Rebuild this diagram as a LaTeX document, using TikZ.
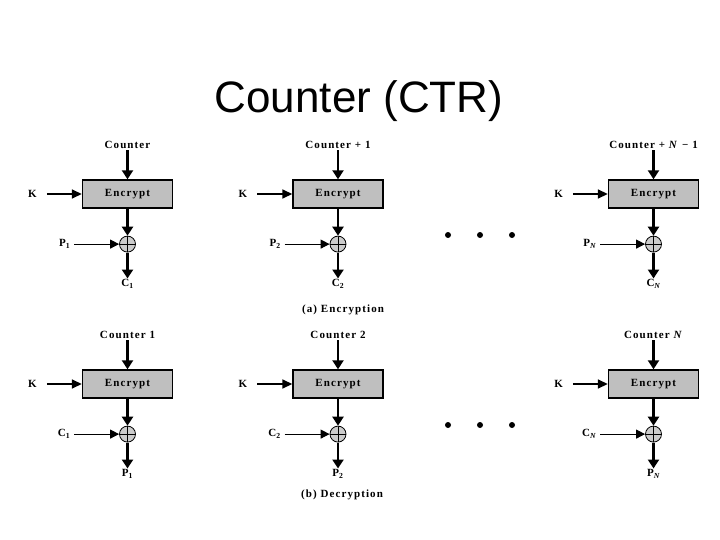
\documentclass[tikz,border=0pt]{standalone}
\usepackage{fontspec}
\setmainfont{Liberation Serif}
\newfontfamily\titlefont{Liberation Sans}
\newfontfamily\lblfont[LetterSpace=10]{Liberation Serif}
\usetikzlibrary{arrows.meta, positioning}

\begin{document}
\begin{tikzpicture}[
    x=1pt, y=-1pt,
    cipher/.style={rectangle, draw, line width=1.4pt, fill=black!25, minimum width=90pt, minimum height=28pt, font=\lblfont\bfseries\fontsize{11}{13}\selectfont},
    xor/.style={circle, draw, line width=0.8pt, fill=black!20, minimum size=16pt, inner sep=0pt,
        path picture={\draw[line width=0.8pt] (path picture bounding box.north) -- (path picture bounding box.south)
                                              (path picture bounding box.west) -- (path picture bounding box.east);}},
    lbl/.style={inner sep=1pt, font=\lblfont\bfseries\fontsize{11}{13}\selectfont},
    keylbl/.style={lbl, outer xsep=9pt},
    txtlbl/.style={lbl, outer xsep=3pt},
    caption/.style={inner sep=1pt, font=\lblfont\bfseries\fontsize{11}{13}\selectfont},
    arrow/.style={-{Triangle[length=9pt, width=11pt]}, line width=2.2pt},
    keyarrow/.style={-{Triangle[length=10pt, width=9pt]}, line width=1.6pt},
    thinarrow/.style={-{Triangle[length=9pt, width=9pt]}, line width=1pt}
]
\useasboundingbox (0,0) rectangle (720,540);

% Title
\node[font=\titlefont\fontsize{44}{52}\selectfont] (title) at (359,101) {Counter (CTR)};

% (a) Encryption, stage 1
\node[cipher] (enc1) at (127.5,194) {Encrypt};
\node[lbl, above=29pt of enc1] (ctr1) {Counter};
\node[keylbl, left=35pt of enc1] (k1) {K};
\node[xor, below=27pt of enc1] (xor1) {};
\node[txtlbl, left=45pt of xor1] (p1) {P\textsubscript{1}};
\node[lbl, below=26pt of xor1] (c1) {C\textsubscript{1}};
\draw[arrow] (ctr1) -- (enc1);
\draw[keyarrow] (k1) -- (enc1);
\draw[arrow] (enc1) -- (xor1);
\draw[thinarrow] (p1) -- (xor1);
\draw[arrow] (xor1) -- (c1);

% (a) Encryption, stage 2
\node[cipher] (enc2) at (338,194) {Encrypt};
\node[lbl, above=29pt of enc2] (ctr2) {Counter + 1};
\node[keylbl, left=35pt of enc2] (k2) {K};
\node[xor, below=27pt of enc2] (xor2) {};
\node[txtlbl, left=45pt of xor2] (p2) {P\textsubscript{2}};
\node[lbl, below=26pt of xor2] (c2) {C\textsubscript{2}};
\draw[arrow] (ctr2) -- (enc2);
\draw[keyarrow] (k2) -- (enc2);
\draw[arrow] (enc2) -- (xor2);
\draw[thinarrow] (p2) -- (xor2);
\draw[arrow] (xor2) -- (c2);

% (a) Encryption, stage N
\node[cipher] (encN) at (653.5,194) {Encrypt};
\node[lbl, above=29pt of encN] (ctrN) {Counter + \textit{N} − 1};
\node[keylbl, left=35pt of encN] (kN) {K};
\node[xor, below=27pt of encN] (xorN) {};
\node[txtlbl, left=45pt of xorN] (pN) {P\textsubscript{\itshape N}};
\node[lbl, below=26pt of xorN] (cN) {C\textsubscript{\itshape N}};
\draw[arrow] (ctrN) -- (encN);
\draw[keyarrow] (kN) -- (encN);
\draw[arrow] (encN) -- (xorN);
\draw[thinarrow] (pN) -- (xorN);
\draw[arrow] (xorN) -- (cN);

\foreach \x in {448,480,512} \fill (\x,235) circle (3);
\node[caption] (enccap) at (343,310) {(a) Encryption};

% (b) Decryption, stage 1
\node[cipher] (dec1) at (127.5,384) {Encrypt};
\node[lbl, above=29pt of dec1] (dctr1) {Counter 1};
\node[keylbl, left=35pt of dec1] (dk1) {K};
\node[xor, below=27pt of dec1] (dxor1) {};
\node[txtlbl, left=45pt of dxor1] (dc1) {C\textsubscript{1}};
\node[lbl, below=26pt of dxor1] (dp1) {P\textsubscript{1}};
\draw[arrow] (dctr1) -- (dec1);
\draw[keyarrow] (dk1) -- (dec1);
\draw[arrow] (dec1) -- (dxor1);
\draw[thinarrow] (dc1) -- (dxor1);
\draw[arrow] (dxor1) -- (dp1);

% (b) Decryption, stage 2
\node[cipher] (dec2) at (338,384) {Encrypt};
\node[lbl, above=29pt of dec2] (dctr2) {Counter 2};
\node[keylbl, left=35pt of dec2] (dk2) {K};
\node[xor, below=27pt of dec2] (dxor2) {};
\node[txtlbl, left=45pt of dxor2] (dc2) {C\textsubscript{2}};
\node[lbl, below=26pt of dxor2] (dp2) {P\textsubscript{2}};
\draw[arrow] (dctr2) -- (dec2);
\draw[keyarrow] (dk2) -- (dec2);
\draw[arrow] (dec2) -- (dxor2);
\draw[thinarrow] (dc2) -- (dxor2);
\draw[arrow] (dxor2) -- (dp2);

% (b) Decryption, stage N
\node[cipher] (decN) at (653.5,384) {Encrypt};
\node[lbl, above=29pt of decN] (dctrN) {Counter \textit{N}};
\node[keylbl, left=35pt of decN] (dkN) {K};
\node[xor, below=27pt of decN] (dxorN) {};
\node[txtlbl, left=45pt of dxorN] (dcN) {C\textsubscript{\itshape N}};
\node[lbl, below=26pt of dxorN] (dpN) {P\textsubscript{\itshape N}};
\draw[arrow] (dctrN) -- (decN);
\draw[keyarrow] (dkN) -- (decN);
\draw[arrow] (decN) -- (dxorN);
\draw[thinarrow] (dcN) -- (dxorN);
\draw[arrow] (dxorN) -- (dpN);

\foreach \x in {448,480,512} \fill (\x,425) circle (3);
\node[caption] (deccap) at (342,495) {(b) Decryption};

\end{tikzpicture}
\end{document}
